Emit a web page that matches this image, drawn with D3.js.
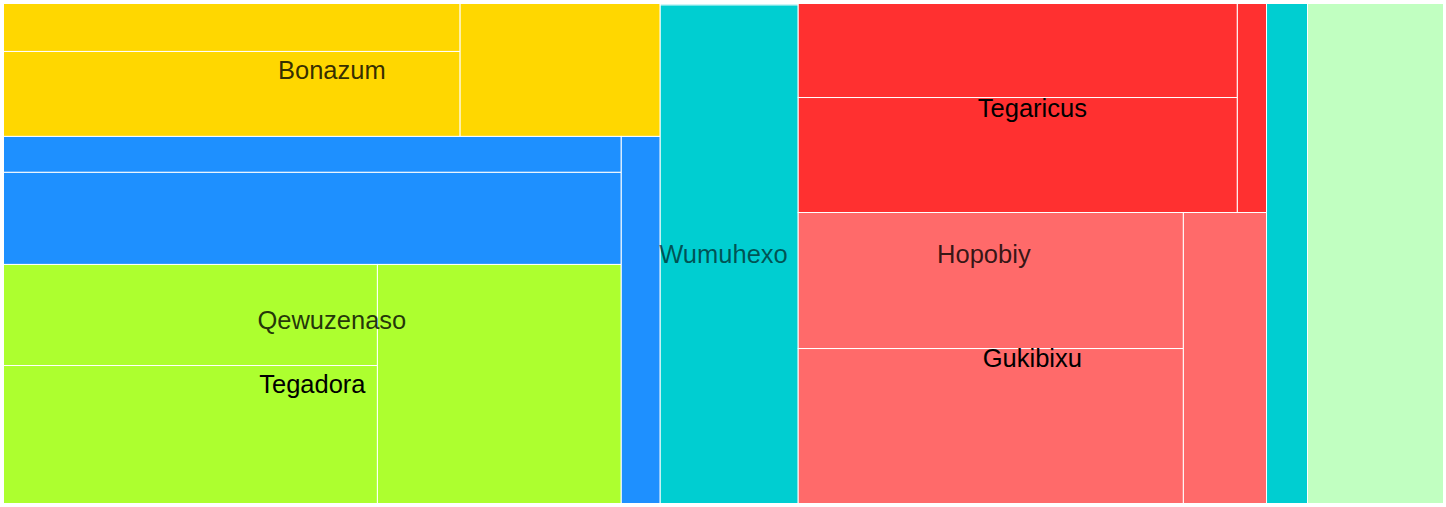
<!DOCTYPE html>
<html><head><meta charset="utf-8">
<script src="https://cdn.jsdelivr.net/npm/d3@7"></script>
<style>html,body{margin:0;padding:0;background:#fff;} svg{display:block;}</style>
</head><body>
<svg id="chart" width="1446" height="507"></svg>
<script>
// Nodes in display order (depth-first). Groups have value 0; leaves carry the values.
const ids     = ["Wumuhexo",
                 "Bonazum", "Bonazum-1", "Bonazum-2", "Bonazum-3",
                 "Qewuzenaso", "Qewuzenaso-1", "Qewuzenaso-2",
                   "Tegadora", "Tegadora-1", "Tegadora-2", "Tegadora-3",
                 "Qewuzenaso-3",
                 "Hopobiy", "Hopobiy-1", "Hopobiy-2",
                   "Tegaricus", "Tegaricus-1", "Tegaricus-2", "Tegaricus-3",
                   "Gukibixu", "Gukibixu-1", "Gukibixu-2", "Gukibixu-3",
                 "Hopobiy-3",
                 "Wumuhexo-1"];
const parents = ["",
                 "Wumuhexo", "Bonazum", "Bonazum", "Bonazum",
                 "Wumuhexo", "Qewuzenaso", "Qewuzenaso",
                   "Qewuzenaso", "Tegadora", "Tegadora", "Tegadora",
                 "Qewuzenaso",
                 "Wumuhexo", "Hopobiy", "Hopobiy",
                   "Hopobiy", "Tegaricus", "Tegaricus", "Tegaricus",
                   "Hopobiy", "Gukibixu", "Gukibixu", "Gukibixu",
                 "Hopobiy",
                 "Wumuhexo"];
const values  = [0,
                 0, 219, 388, 266,
                 0, 222, 569,
                   0, 378, 516, 583,
                 143,
                 0, 2, 688,
                   0, 413, 505, 61,
                   0, 524, 597, 242,
                 205,
                 680];

// Colour of each group (its direct leaves use it)
const groupNames  = ["Wumuhexo", "Bonazum", "Qewuzenaso", "Tegadora", "Hopobiy", "Tegaricus", "Gukibixu"];
const groupColors = ["#C1FFC1", "#FFD700", "#1E90FF", "#ADFF2F", "#00CED1", "#FF3030", "#FF6A6A"];

// How many children go in each strip of a group (layout grouping)
const stripCounts = {
  "Wumuhexo": [2, 1, 1],
  "Bonazum": [2, 1],
  "Qewuzenaso": [3, 1],
  "Tegadora": [2, 1],
  "Hopobiy": [2, 2, 1],
  "Tegaricus": [2, 1],
  "Gukibixu": [2, 1]
};

const M = 3.5, innerW = 1440, innerH = 500;
const colorScale = d3.scaleOrdinal().domain(groupNames).range(groupColors);
const labelOpacity = [0.6, 0.8, 1];

const table = ids.map((id, i) => ({id, parent: parents[i] || null, value: values[i]}));
const root = d3.stratify().id(d => d.id).parentId(d => d.parent)(table)
  .sum(d => d.value);

function stripTile(node, x0, y0, x1, y1) {
  const counts = stripCounts[node.data.id] || [node.children.length];
  let remaining = node.value, i = 0;
  for (const k of counts) {
    const kids = node.children.slice(i, i + k);
    const strip = {children: kids, value: d3.sum(kids, d => d.value)};
    const dx = x1 - x0, dy = y1 - y0;
    if (dx >= dy) {
      const w = remaining ? dx * strip.value / remaining : 0;
      d3.treemapSlice(strip, x0, y0, x0 + w, y1);
      x0 += w;
    } else {
      const h = remaining ? dy * strip.value / remaining : 0;
      d3.treemapDice(strip, x0, y0, x1, y0 + h);
      y0 += h;
    }
    remaining -= strip.value;
    i += k;
  }
}

d3.treemap().tile(stripTile).size([innerW, innerH]).paddingInner(0)(root);

const svg = d3.select("#chart");
const g = svg.append("g").attr("transform", `translate(${M},${M})`);

g.selectAll("rect.leaf").data(root.leaves()).join("rect")
  .attr("class", "leaf")
  .attr("x", d => d.x0).attr("y", d => d.y0)
  .attr("width", d => Math.max(0, d.x1 - d.x0))
  .attr("height", d => Math.max(0, d.y1 - d.y0))
  .attr("fill", d => colorScale(d.parent.data.id))
  .attr("stroke", "#fff").attr("stroke-width", 1);

const groups = root.descendants().filter(d => d.children);
g.selectAll("text.lbl").data(groups).join("text")
  .attr("class", "lbl")
  .attr("x", d => (d.x0 + d.x1) / 2)
  .attr("y", d => (d.y0 + d.y1) / 2)
  .attr("text-anchor", "middle")
  .attr("dominant-baseline", "central")
  .attr("font-family", "'Liberation Sans', Arial, sans-serif")
  .attr("font-size", 25.5)
  .attr("fill", "#000")
  .attr("fill-opacity", d => labelOpacity[Math.min(d.depth, 2)])
  .text(d => d.data.id);
</script>
</body></html>
